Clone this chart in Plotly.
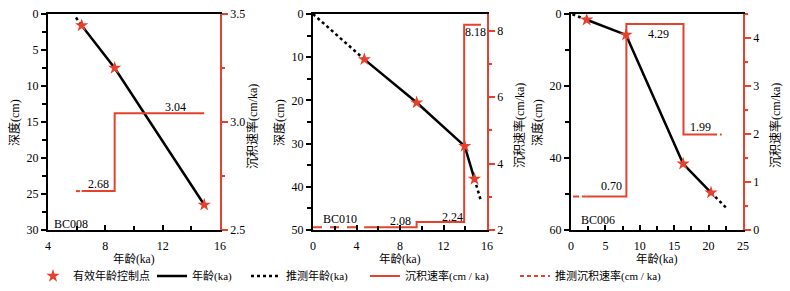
import plotly.graph_objects as go

W, H = 790, 291
RED = "#e5412d"
FONT = "Liberation Serif, Noto Sans CJK SC, serif"

# ---------------- data ----------------
cores = ["BC008", "BC010", "BC006"]

# BC008
bc008_age = [6.35, 8.65, 14.9]
bc008_depth = [1.6, 7.5, 26.5]
bc008_top_age = [5.95, 6.35]
bc008_top_depth = [0.5, 1.6]
bc008_bot_age = []
bc008_bot_depth = []
bc008_rate_bounds = [6.35, 8.65, 14.9]
bc008_rates = [2.68, 3.04]
bc008_rate_ext_left = [5.95, 6.35]
bc008_rate_ext_right = []

# BC010
bc010_age = [4.72, 9.53, 13.95, 14.85]
bc010_depth = [10.5, 20.5, 30.6, 38.2]
bc010_top_age = [0.0, 4.72]
bc010_top_depth = [0.0, 10.5]
bc010_bot_age = [14.85, 15.45]
bc010_bot_depth = [38.2, 43.3]
bc010_rate_bounds = [4.72, 9.53, 13.9, 15.45]
bc010_rates = [2.08, 2.24, 8.18]
bc010_rate_ext_left = [0.0, 4.72]
bc010_rate_ext_right = []

# BC006
bc006_age = [2.28, 8.0, 16.3, 20.35]
bc006_depth = [1.6, 5.8, 41.6, 49.6]
bc006_top_age = [0.2, 2.28]
bc006_top_depth = [0.1, 1.6]
bc006_bot_age = [20.35, 22.5]
bc006_bot_depth = [49.6, 53.7]
bc006_rate_bounds = [2.28, 8.05, 16.35, 20.35]
bc006_rates = [0.70, 4.29, 1.99]
bc006_rate_ext_left = [0.3, 2.28]
bc006_rate_ext_right = [20.35, 21.9]

# axes
x_ranges = [[4, 16], [0, 16], [0, 25]]
x_dticks = [4, 4, 5]
depth_ranges = [[30, 0], [50, 0], [60, 0]]
depth_dticks = [5, 10, 20]
rate_ranges = [[2.5, 3.5], [2, 8.5], [0, 4.5]]
rate_dticks = [0.5, 2, 1]
rate_formats = [".1f", "d", "d"]

# rate labels: (age, rate, text, yshift)
rate_labels = [
    [(7.5, 2.68, "2.68", 7), (12.9, 3.04, "3.04", 6)],
    [(8.0, 2.08, "2.08", 6), (12.8, 2.24, "2.24", 5), (14.9, 8.18, "8.18", -7)],
    [(5.9, 0.70, "0.70", 10), (12.7, 4.29, "4.29", -10), (18.75, 1.99, "1.99", 7)],
]
core_label_pos = [(4.26, 29.2), (0.74, 47.5), (1.16, 57.2)]

# ---------------- layout helpers ----------------
px_x = [(48, 220), (313, 487), (571, 743)]
py_top, py_bot = 14, 230
ydom = [(H - py_bot) / H, (H - py_top) / H]

data = [
    (bc008_age, bc008_depth, bc008_top_age, bc008_top_depth, bc008_bot_age, bc008_bot_depth,
     bc008_rate_bounds, bc008_rates, bc008_rate_ext_left, bc008_rate_ext_right, "4px,3px"),
    (bc010_age, bc010_depth, bc010_top_age, bc010_top_depth, bc010_bot_age, bc010_bot_depth,
     bc010_rate_bounds, bc010_rates, bc010_rate_ext_left, bc010_rate_ext_right, "9px,8px"),
    (bc006_age, bc006_depth, bc006_top_age, bc006_top_depth, bc006_bot_age, bc006_bot_depth,
     bc006_rate_bounds, bc006_rates, bc006_rate_ext_left, bc006_rate_ext_right, "6px,3px"),
]


def step(bounds, rates):
    xs, ys = [], []
    for i, r in enumerate(rates):
        xs += [bounds[i], bounds[i + 1]]
        ys += [r, r]
    return xs, ys


fig = go.Figure()
annotations = []
layout = dict(
    width=W, height=H, margin=dict(l=0, r=0, t=0, b=0, autoexpand=False),
    paper_bgcolor="white", plot_bgcolor="white",
    font=dict(family=FONT, size=12, color="black"),
)

for i in range(3):
    (age, depth, tage, tdep, bage, bdep, rb, rates, exl, exr, rdash) = data[i]
    xn = "x" if i == 0 else f"x{i+1}"
    yd = "y" if i == 0 else f"y{2*i+1}"
    yr = f"y{2*i+2}"
    xkey = "xaxis" if i == 0 else f"xaxis{i+1}"
    ydkey = "yaxis" if i == 0 else f"yaxis{2*i+1}"
    yrkey = f"yaxis{2*i+2}"
    first = i == 0

    # rate lines (drawn first)
    sx, sy = step(rb, rates)
    fig.add_trace(go.Scatter(x=sx, y=sy, xaxis=xn, yaxis=yr, mode="lines",
                             line=dict(color=RED, width=2), name="沉积速率(cm / ka)",
                             showlegend=first, legend="legend4"))
    if exl:
        fig.add_trace(go.Scatter(x=exl, y=[rates[0]] * len(exl), xaxis=xn, yaxis=yr, mode="lines",
                                 line=dict(color=RED, width=2, dash=rdash),
                                 name="推测沉积速率(cm / ka)", showlegend=first, legend="legend5"))
    if exr:
        fig.add_trace(go.Scatter(x=exr, y=[rates[-1]] * len(exr), xaxis=xn, yaxis=yr, mode="lines",
                                 line=dict(color=RED, width=2, dash=rdash),
                                 showlegend=False))
    # age-depth
    fig.add_trace(go.Scatter(x=age, y=depth, xaxis=xn, yaxis=yd, mode="lines",
                             line=dict(color="black", width=2.5), name="年龄(ka)",
                             showlegend=first, legend="legend2"))
    if tage:
        fig.add_trace(go.Scatter(x=tage, y=tdep, xaxis=xn, yaxis=yd, mode="lines",
                                 line=dict(color="black", width=2.5, dash="3px,3px"),
                                 name="推测年龄(ka)", showlegend=first, legend="legend3"))
    if bage:
        fig.add_trace(go.Scatter(x=bage, y=bdep, xaxis=xn, yaxis=yd, mode="lines",
                                 line=dict(color="black", width=2.5, dash="3px,3px"),
                                 showlegend=False))
    fig.add_trace(go.Scatter(x=age, y=depth, xaxis=xn, yaxis=yd, mode="markers",
                             marker=dict(symbol="star", size=10, color=RED,
                                         line=dict(width=0)),
                             name="有效年龄控制点", showlegend=first, legend="legend"))

    xd = [px_x[i][0] / W, px_x[i][1] / W]
    layout[xkey] = dict(domain=xd, anchor=yd, range=x_ranges[i], dtick=x_dticks[i],
                        tick0=0, showgrid=False, zeroline=False, showline=True,
                        linecolor="black", linewidth=2, mirror=True, automargin=False,
                        ticks="inside", ticklen=5, tickwidth=1.5, tickcolor="black",
                        minor=dict(ticks="inside", dtick=x_dticks[i] / 2, ticklen=4,
                                   tickwidth=1.5, tickcolor="black", showgrid=False),
                        tickfont=dict(size=12, family=FONT), ticklabelstandoff=4)
    layout[ydkey] = dict(domain=ydom, anchor=xn, range=depth_ranges[i], dtick=depth_dticks[i],
                         tick0=0, showgrid=False, zeroline=False, showline=True,
                         linecolor="black", linewidth=2, ticks="outside", ticklen=5,
                         tickwidth=1.5, tickcolor="black", automargin=False,
                         minor=dict(ticks="outside", dtick=depth_dticks[i] / 2, ticklen=4,
                                    tickwidth=1.5, tickcolor="black", showgrid=False),
                         tickfont=dict(size=12, family=FONT))
    layout[yrkey] = dict(overlaying=yd, anchor=xn, side="right", range=rate_ranges[i],
                         dtick=rate_dticks[i], tick0=0, tickformat=rate_formats[i],
                         showgrid=False, zeroline=False, showline=True, linecolor=RED,
                         linewidth=1.5, ticks="outside", ticklen=6, tickwidth=1.5,
                         tickcolor=RED, automargin=False,
                         minor=dict(ticks="outside", dtick=rate_dticks[i] / 2, ticklen=3,
                                    tickwidth=1.5, tickcolor=RED, showgrid=False),
                         tickfont=dict(size=12, family=FONT))

    # rate value labels
    for (ax_, ry, txt, ys) in rate_labels[i]:
        annotations.append(dict(x=ax_, y=ry, xref=xn, yref=yr, text=txt, showarrow=False,
                                xanchor="center", yanchor="middle",
                                yshift=ys, font=dict(size=12, family=FONT)))
    cx, cy = core_label_pos[i]
    annotations.append(dict(x=cx, y=cy, xref=xn, yref=yd, text=cores[i], showarrow=False,
                            xanchor="left", yanchor="middle", font=dict(size=12, family=FONT)))

    # axis titles
    x0, x1 = px_x[i]
    annotations.append(dict(x=(x0 - 34) / W, y=(H - 123) / H, xref="paper", yref="paper",
                            text="深度(cm)", textangle=-90, showarrow=False,
                            xanchor="center", yanchor="middle",
                            font=dict(size=12, family=FONT)))
    annotations.append(dict(x=(x1 + 32) / W, y=(H - 126) / H, xref="paper", yref="paper",
                            text="沉积速率(cm/ka)", textangle=-90, showarrow=False,
                            xanchor="center", yanchor="middle",
                            font=dict(size=12, family=FONT)))
    annotations.append(dict(x=(x0 + x1) / 2 / W, y=(H - 259) / H, xref="paper", yref="paper",
                            text="年龄(ka)", showarrow=False,
                            xanchor="center", yanchor="middle",
                            font=dict(size=11.5, family=FONT)))

layout["annotations"] = annotations

leg_y = (H - 276) / H
leg_x = {"legend": 33, "legend2": 152, "legend3": 246, "legend4": 365, "legend5": 515}
for k, v in leg_x.items():
    layout[k] = dict(x=v / W, y=leg_y, xanchor="left", yanchor="middle", orientation="h",
                     bgcolor="rgba(0,0,0,0)", font=dict(size=11, family=FONT),
                     itemwidth=30, borderwidth=0)

fig.update_layout(**layout)
fig.write_html("out.html", config={"displayModeBar": False},
               post_script="document.body.style.margin='0';document.body.style.overflow='hidden';")
